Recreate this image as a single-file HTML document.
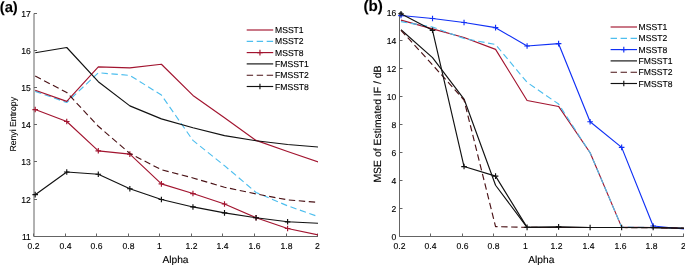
<!DOCTYPE html>
<html><head><meta charset="utf-8"><style>
html,body{margin:0;padding:0;background:#fff;}
body{width:685px;height:265px;overflow:hidden;}
svg{display:block;will-change:transform;text-rendering:geometricPrecision;}
text{stroke:#000;stroke-width:0.12px;font-family:"Liberation Sans",sans-serif;}
</style></head><body>
<svg width="685" height="265" viewBox="0 0 685 265">
<defs><clipPath id="ca"><rect x="0" y="0" width="317.9" height="265"/></clipPath><clipPath id="cb"><rect x="340" y="0" width="343.9" height="265"/></clipPath></defs>
<rect width="685" height="265" fill="#fff"/>
<path d="M34 13.5V236.5H318" stroke="#646464" stroke-width="1" fill="none"/>
<path d="M34 236.5H37" stroke="#646464" stroke-width="1"/>
<text x="30.8" y="240.1" text-anchor="end" font-size="8.6" fill="#000000">11</text>
<path d="M34 199.5H37" stroke="#646464" stroke-width="1"/>
<text x="30.8" y="203.1" text-anchor="end" font-size="8.6" fill="#000000">12</text>
<path d="M34 161.5H37" stroke="#646464" stroke-width="1"/>
<text x="30.8" y="165.1" text-anchor="end" font-size="8.6" fill="#000000">13</text>
<path d="M34 124.5H37" stroke="#646464" stroke-width="1"/>
<text x="30.8" y="128.1" text-anchor="end" font-size="8.6" fill="#000000">14</text>
<path d="M34 87.5H37" stroke="#646464" stroke-width="1"/>
<text x="30.8" y="91.1" text-anchor="end" font-size="8.6" fill="#000000">15</text>
<path d="M34 50.5H37" stroke="#646464" stroke-width="1"/>
<text x="30.8" y="54.1" text-anchor="end" font-size="8.6" fill="#000000">16</text>
<path d="M34 13.5H37" stroke="#646464" stroke-width="1"/>
<text x="30.8" y="17.1" text-anchor="end" font-size="8.6" fill="#000000">17</text>
<path d="M33.5 236.5V233.5" stroke="#646464" stroke-width="1"/>
<text x="33.5" y="248.9" text-anchor="middle" font-size="8.6" fill="#000000">0.2</text>
<path d="M65.5 236.5V233.5" stroke="#646464" stroke-width="1"/>
<text x="65.5" y="248.9" text-anchor="middle" font-size="8.6" fill="#000000">0.4</text>
<path d="M96.5 236.5V233.5" stroke="#646464" stroke-width="1"/>
<text x="96.5" y="248.9" text-anchor="middle" font-size="8.6" fill="#000000">0.6</text>
<path d="M128.5 236.5V233.5" stroke="#646464" stroke-width="1"/>
<text x="128.5" y="248.9" text-anchor="middle" font-size="8.6" fill="#000000">0.8</text>
<path d="M159.5 236.5V233.5" stroke="#646464" stroke-width="1"/>
<text x="159.5" y="248.9" text-anchor="middle" font-size="8.6" fill="#000000">1</text>
<path d="M191.5 236.5V233.5" stroke="#646464" stroke-width="1"/>
<text x="191.5" y="248.9" text-anchor="middle" font-size="8.6" fill="#000000">1.2</text>
<path d="M222.5 236.5V233.5" stroke="#646464" stroke-width="1"/>
<text x="222.5" y="248.9" text-anchor="middle" font-size="8.6" fill="#000000">1.4</text>
<path d="M254.5 236.5V233.5" stroke="#646464" stroke-width="1"/>
<text x="254.5" y="248.9" text-anchor="middle" font-size="8.6" fill="#000000">1.6</text>
<path d="M286.5 236.5V233.5" stroke="#646464" stroke-width="1"/>
<text x="286.5" y="248.9" text-anchor="middle" font-size="8.6" fill="#000000">1.8</text>
<path d="M317.5 236.5V233.5" stroke="#646464" stroke-width="1"/>
<text x="317.5" y="248.9" text-anchor="middle" font-size="8.6" fill="#000000">2</text>
<path d="M35.2 91.35 L66.75 102.5 L98.3 72.77 L129.85 75.37 L161.4 95.07 L192.95 140.41 L224.5 165.68 L256.05 192.44 L287.6 205.82 L319.15 216.97" stroke="#4dbeee" stroke-width="1.15" fill="none" stroke-linejoin="round" stroke-dasharray="6.4 3.6" clip-path="url(#ca)"/>
<path d="M35.2 90.24 L66.75 101.38 L98.3 66.82 L129.85 67.94 L161.4 64.22 L192.95 95.44 L224.5 117.74 L256.05 140.41 L287.6 151.56 L319.15 162.34" stroke="#a2142f" stroke-width="1.15" fill="none" stroke-linejoin="round" clip-path="url(#ca)"/>
<path d="M35.2 109.56 L66.75 121.46 L98.3 150.82 L129.85 154.16 L161.4 183.9 L192.95 193.56 L224.5 203.97 L256.05 217.72 L287.6 228.49 L319.15 235.19" stroke="#a2142f" stroke-width="1.15" fill="none" stroke-linejoin="round" clip-path="url(#ca)"/>
<path d="M32.4 109.56H38M35.2 106.76V112.36" stroke="#a2142f" stroke-width="1.15" fill="none"/>
<path d="M63.95 121.46H69.55M66.75 118.66V124.26" stroke="#a2142f" stroke-width="1.15" fill="none"/>
<path d="M95.5 150.82H101.1M98.3 148.02V153.62" stroke="#a2142f" stroke-width="1.15" fill="none"/>
<path d="M127.05 154.16H132.65M129.85 151.36V156.96" stroke="#a2142f" stroke-width="1.15" fill="none"/>
<path d="M158.6 183.9H164.2M161.4 181.09V186.7" stroke="#a2142f" stroke-width="1.15" fill="none"/>
<path d="M190.15 193.56H195.75M192.95 190.76V196.36" stroke="#a2142f" stroke-width="1.15" fill="none"/>
<path d="M221.7 203.97H227.3M224.5 201.17V206.77" stroke="#a2142f" stroke-width="1.15" fill="none"/>
<path d="M253.25 217.72H258.85M256.05 214.92V220.52" stroke="#a2142f" stroke-width="1.15" fill="none"/>
<path d="M284.8 228.49H290.4M287.6 225.69V231.29" stroke="#a2142f" stroke-width="1.15" fill="none"/>
<path d="M35.2 52.7 L66.75 47.49 L98.3 81.69 L129.85 105.85 L161.4 118.85 L192.95 127.77 L224.5 135.58 L256.05 140.78 L287.6 144.5 L319.15 147.1" stroke="#111111" stroke-width="1.15" fill="none" stroke-linejoin="round" clip-path="url(#ca)"/>
<path d="M35.2 76.11 L66.75 92.47 L98.3 126.29 L129.85 153.42 L161.4 169.77 L192.95 177.95 L224.5 187.24 L256.05 193.93 L287.6 199.88 L319.15 202.48" stroke="#4a1216" stroke-width="1.15" fill="none" stroke-linejoin="round" stroke-dasharray="6.4 3.6" clip-path="url(#ca)"/>
<path d="M35.2 194.67 L66.75 172 L98.3 174.23 L129.85 188.73 L161.4 199.5 L192.95 206.94 L224.5 212.88 L256.05 217.72 L287.6 221.8 L319.15 223.29" stroke="#111111" stroke-width="1.15" fill="none" stroke-linejoin="round" clip-path="url(#ca)"/>
<path d="M32.4 194.67H38M35.2 191.87V197.47" stroke="#111111" stroke-width="1.15" fill="none"/>
<path d="M63.95 172H69.55M66.75 169.2V174.8" stroke="#111111" stroke-width="1.15" fill="none"/>
<path d="M95.5 174.23H101.1M98.3 171.43V177.03" stroke="#111111" stroke-width="1.15" fill="none"/>
<path d="M127.05 188.73H132.65M129.85 185.93V191.53" stroke="#111111" stroke-width="1.15" fill="none"/>
<path d="M158.6 199.5H164.2M161.4 196.7V202.31" stroke="#111111" stroke-width="1.15" fill="none"/>
<path d="M190.15 206.94H195.75M192.95 204.14V209.74" stroke="#111111" stroke-width="1.15" fill="none"/>
<path d="M221.7 212.88H227.3M224.5 210.08V215.69" stroke="#111111" stroke-width="1.15" fill="none"/>
<path d="M253.25 217.72H258.85M256.05 214.92V220.52" stroke="#111111" stroke-width="1.15" fill="none"/>
<path d="M284.8 221.8H290.4M287.6 219V224.6" stroke="#111111" stroke-width="1.15" fill="none"/>
<path d="M399.5 12.5V236.5H684" stroke="#646464" stroke-width="1" fill="none"/>
<path d="M399.5 236.5H402.5" stroke="#646464" stroke-width="1"/>
<text x="396.3" y="240.1" text-anchor="end" font-size="8.6" fill="#000000">0</text>
<path d="M399.5 208.5H402.5" stroke="#646464" stroke-width="1"/>
<text x="396.3" y="212.1" text-anchor="end" font-size="8.6" fill="#000000">2</text>
<path d="M399.5 180.5H402.5" stroke="#646464" stroke-width="1"/>
<text x="396.3" y="184.1" text-anchor="end" font-size="8.6" fill="#000000">4</text>
<path d="M399.5 152.5H402.5" stroke="#646464" stroke-width="1"/>
<text x="396.3" y="156.1" text-anchor="end" font-size="8.6" fill="#000000">6</text>
<path d="M399.5 124.5H402.5" stroke="#646464" stroke-width="1"/>
<text x="396.3" y="128.1" text-anchor="end" font-size="8.6" fill="#000000">8</text>
<path d="M399.5 96.5H402.5" stroke="#646464" stroke-width="1"/>
<text x="396.3" y="100.1" text-anchor="end" font-size="8.6" fill="#000000">10</text>
<path d="M399.5 68.5H402.5" stroke="#646464" stroke-width="1"/>
<text x="396.3" y="72.1" text-anchor="end" font-size="8.6" fill="#000000">12</text>
<path d="M399.5 40.5H402.5" stroke="#646464" stroke-width="1"/>
<text x="396.3" y="44.1" text-anchor="end" font-size="8.6" fill="#000000">14</text>
<path d="M399.5 12.5H402.5" stroke="#646464" stroke-width="1"/>
<text x="396.3" y="16.1" text-anchor="end" font-size="8.6" fill="#000000">16</text>
<path d="M399.5 236.5V233.5" stroke="#646464" stroke-width="1"/>
<text x="399.5" y="248.9" text-anchor="middle" font-size="8.6" fill="#000000">0.2</text>
<path d="M430.5 236.5V233.5" stroke="#646464" stroke-width="1"/>
<text x="430.5" y="248.9" text-anchor="middle" font-size="8.6" fill="#000000">0.4</text>
<path d="M462.5 236.5V233.5" stroke="#646464" stroke-width="1"/>
<text x="462.5" y="248.9" text-anchor="middle" font-size="8.6" fill="#000000">0.6</text>
<path d="M493.5 236.5V233.5" stroke="#646464" stroke-width="1"/>
<text x="493.5" y="248.9" text-anchor="middle" font-size="8.6" fill="#000000">0.8</text>
<path d="M525.5 236.5V233.5" stroke="#646464" stroke-width="1"/>
<text x="525.5" y="248.9" text-anchor="middle" font-size="8.6" fill="#000000">1</text>
<path d="M556.5 236.5V233.5" stroke="#646464" stroke-width="1"/>
<text x="556.5" y="248.9" text-anchor="middle" font-size="8.6" fill="#000000">1.2</text>
<path d="M588.5 236.5V233.5" stroke="#646464" stroke-width="1"/>
<text x="588.5" y="248.9" text-anchor="middle" font-size="8.6" fill="#000000">1.4</text>
<path d="M620.5 236.5V233.5" stroke="#646464" stroke-width="1"/>
<text x="620.5" y="248.9" text-anchor="middle" font-size="8.6" fill="#000000">1.6</text>
<path d="M651.5 236.5V233.5" stroke="#646464" stroke-width="1"/>
<text x="651.5" y="248.9" text-anchor="middle" font-size="8.6" fill="#000000">1.8</text>
<path d="M683.5 236.5V233.5" stroke="#646464" stroke-width="1"/>
<text x="683.5" y="248.9" text-anchor="middle" font-size="8.6" fill="#000000">2</text>
<path d="M401 20.14 L432.52 28.91 L464.04 37.54 L495.56 49.37 L527.08 100.45 L558.6 106.44 L590.12 152.79 L621.64 227.11 L653.16 227.53 L684.68 228.23" stroke="#a2142f" stroke-width="1.15" fill="none" stroke-linejoin="round" clip-path="url(#cb)"/>
<path d="M401 21.67 L432.52 26.96 L464.04 38.51 L495.56 44.5 L527.08 82.36 L558.6 104.07 L590.12 152.79 L621.64 227.11 L653.16 227.53 L684.68 228.23" stroke="#4dbeee" stroke-width="1.15" fill="none" stroke-linejoin="round" stroke-dasharray="6.4 3.6" clip-path="url(#cb)"/>
<path d="M401 15.55 L432.52 18.47 L464.04 22.51 L495.56 27.66 L527.08 46.03 L558.6 43.66 L590.12 121.75 L621.64 147.36 L653.16 226 L684.68 229.06" stroke="#1030f5" stroke-width="1.15" fill="none" stroke-linejoin="round" clip-path="url(#cb)"/>
<path d="M398.2 15.55H403.8M401 12.75V18.35" stroke="#1030f5" stroke-width="1.15" fill="none"/>
<path d="M429.72 18.47H435.32M432.52 15.67V21.27" stroke="#1030f5" stroke-width="1.15" fill="none"/>
<path d="M461.24 22.51H466.84M464.04 19.71V25.31" stroke="#1030f5" stroke-width="1.15" fill="none"/>
<path d="M492.76 27.66H498.36M495.56 24.86V30.46" stroke="#1030f5" stroke-width="1.15" fill="none"/>
<path d="M524.28 46.03H529.88M527.08 43.23V48.83" stroke="#1030f5" stroke-width="1.15" fill="none"/>
<path d="M555.8 43.66H561.4M558.6 40.86V46.46" stroke="#1030f5" stroke-width="1.15" fill="none"/>
<path d="M587.32 121.75H592.92M590.12 118.95V124.55" stroke="#1030f5" stroke-width="1.15" fill="none"/>
<path d="M618.84 147.36H624.44M621.64 144.56V150.16" stroke="#1030f5" stroke-width="1.15" fill="none"/>
<path d="M650.36 226H655.96M653.16 223.2V228.8" stroke="#1030f5" stroke-width="1.15" fill="none"/>
<path d="M401 29.75 L432.52 57.58 L464.04 99.06 L495.56 185.22 L527.08 227.39 L558.6 227.39 L590.12 227.53 L621.64 227.53 L653.16 227.67 L684.68 228.23" stroke="#111111" stroke-width="1.15" fill="none" stroke-linejoin="round" clip-path="url(#cb)"/>
<path d="M401 30.3 L432.52 64.82 L464.04 100.04 L495.56 226.56 L527.08 227.39 L558.6 227.53 L590.12 227.53 L621.64 227.53 L653.16 227.67 L684.68 228.23" stroke="#4a1216" stroke-width="1.15" fill="none" stroke-linejoin="round" stroke-dasharray="6.4 3.6" clip-path="url(#cb)"/>
<path d="M401 13.74 L432.52 30.3 L464.04 166.57 L495.56 176.17 L527.08 227.39 L558.6 226.84 L590.12 227.53 L621.64 227.53 L653.16 227.53 L684.68 228.23" stroke="#111111" stroke-width="1.15" fill="none" stroke-linejoin="round" clip-path="url(#cb)"/>
<path d="M398.2 13.74H403.8M401 10.94V16.54" stroke="#111111" stroke-width="1.15" fill="none"/>
<path d="M429.72 30.3H435.32M432.52 27.5V33.1" stroke="#111111" stroke-width="1.15" fill="none"/>
<path d="M461.24 166.57H466.84M464.04 163.77V169.37" stroke="#111111" stroke-width="1.15" fill="none"/>
<path d="M492.76 176.17H498.36M495.56 173.37V178.97" stroke="#111111" stroke-width="1.15" fill="none"/>
<path d="M524.28 227.39H529.88M527.08 224.59V230.19" stroke="#111111" stroke-width="1.15" fill="none"/>
<path d="M555.8 226.84H561.4M558.6 224.04V229.64" stroke="#111111" stroke-width="1.15" fill="none"/>
<path d="M587.32 227.53H592.92M590.12 224.73V230.33" stroke="#111111" stroke-width="1.15" fill="none"/>
<path d="M618.84 227.53H624.44M621.64 224.73V230.33" stroke="#111111" stroke-width="1.15" fill="none"/>
<path d="M650.36 227.53H655.96M653.16 224.73V230.33" stroke="#111111" stroke-width="1.15" fill="none"/>
<path d="M246.7 30H273.2" stroke="#a2142f" stroke-width="1.15"/>
<text x="275" y="33.1" font-size="8.6" fill="#000000">MSST1</text>
<path d="M246.7 41.3H273.2" stroke="#4dbeee" stroke-width="1.15" stroke-dasharray="6.4 3.6"/>
<text x="275" y="44.4" font-size="8.6" fill="#000000">MSST2</text>
<path d="M246.7 52.6H273.2" stroke="#a2142f" stroke-width="1.15"/>
<path d="M257.15 52.6H262.75M259.95 49.8V55.4" stroke="#a2142f" stroke-width="1.15" fill="none"/>
<text x="275" y="55.7" font-size="8.6" fill="#000000">MSST8</text>
<path d="M246.7 63.9H273.2" stroke="#111111" stroke-width="1.15"/>
<text x="275" y="67" font-size="8.6" fill="#000000">FMSST1</text>
<path d="M246.7 75.2H273.2" stroke="#4a1216" stroke-width="1.15" stroke-dasharray="6.4 3.6"/>
<text x="275" y="78.3" font-size="8.6" fill="#000000">FMSST2</text>
<path d="M246.7 86.5H273.2" stroke="#111111" stroke-width="1.15"/>
<path d="M257.15 86.5H262.75M259.95 83.7V89.3" stroke="#111111" stroke-width="1.15" fill="none"/>
<text x="275" y="89.6" font-size="8.6" fill="#000000">FMSST8</text>
<path d="M610.6 27H637" stroke="#a2142f" stroke-width="1.15"/>
<text x="638.6" y="30.1" font-size="8.6" fill="#000000">MSST1</text>
<path d="M610.6 38.3H637" stroke="#4dbeee" stroke-width="1.15" stroke-dasharray="6.4 3.6"/>
<text x="638.6" y="41.4" font-size="8.6" fill="#000000">MSST2</text>
<path d="M610.6 49.6H637" stroke="#1030f5" stroke-width="1.15"/>
<path d="M621 49.6H626.6M623.8 46.8V52.4" stroke="#1030f5" stroke-width="1.15" fill="none"/>
<text x="638.6" y="52.7" font-size="8.6" fill="#000000">MSST8</text>
<path d="M610.6 60.9H637" stroke="#111111" stroke-width="1.15"/>
<text x="638.6" y="64" font-size="8.6" fill="#000000">FMSST1</text>
<path d="M610.6 72.2H637" stroke="#4a1216" stroke-width="1.15" stroke-dasharray="6.4 3.6"/>
<text x="638.6" y="75.3" font-size="8.6" fill="#000000">FMSST2</text>
<path d="M610.6 83.5H637" stroke="#111111" stroke-width="1.15"/>
<path d="M621 83.5H626.6M623.8 80.7V86.3" stroke="#111111" stroke-width="1.15" fill="none"/>
<text x="638.6" y="86.6" font-size="8.6" fill="#000000">FMSST8</text>
<text x="175.5" y="262.6" text-anchor="middle" font-size="10.2" fill="#000000">Alpha</text>
<text x="541.3" y="262.6" text-anchor="middle" font-size="10.2" fill="#000000">Alpha</text>
<text transform="translate(16.0 124.3) rotate(-90)" text-anchor="middle" font-size="8.7" fill="#000000">Renyi Entropy</text>
<text transform="translate(380.6 124.0) rotate(-90)" text-anchor="middle" font-size="10.45" fill="#000000">MSE of Estimated IF / dB</text>
<text x="-0.3" y="11.9" font-size="14.8" font-weight="bold" fill="#000">(a)</text>
<text x="363.4" y="10.9" font-size="15.2" font-weight="bold" fill="#000">(b)</text>
</svg>
</body></html>
